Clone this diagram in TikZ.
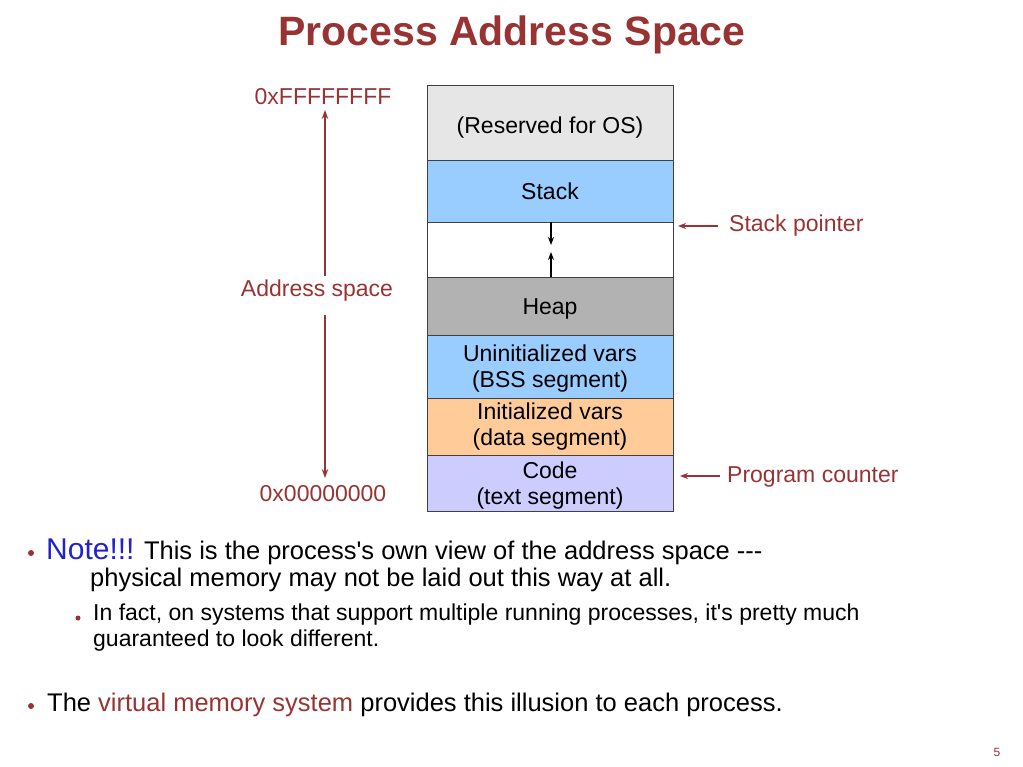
\documentclass[tikz,border=0pt]{standalone}
\usepackage{fontspec}
\setmainfont{Liberation Sans}[Ligatures=TeXOff]
\usetikzlibrary{arrows.meta}
\definecolor{darkred}{HTML}{993333}
\definecolor{noteblue}{HTML}{2222CC}
\definecolor{osgray}{HTML}{E6E6E6}
\definecolor{stackblue}{HTML}{99CCFF}
\definecolor{heapgray}{HTML}{B2B2B2}
\definecolor{dataorange}{HTML}{FFCC99}
\definecolor{codeviolet}{HTML}{CCCCFF}
\newcommand{\fs}[1]     {\fontsize{#1}{1.2\dimexpr#1pt\relax}\selectfont}
\newcommand{\hl}[1]     {\textcolor{darkred}{#1}}
\newcommand{\dn}[2]     {\raisebox{-#1pt}[\height][\depth]{\begin{tabular}{@{}c@{}}#2\end{tabular}}}

\begin{document}
\begin{tikzpicture}[x=1pt,y=-1pt,
   seg/.style={draw=black!75,line width=0.8pt,minimum width=246pt,inner sep=0pt,
               align=center,font=\fs{23},text=black},
   lbl/.style={text=darkred,font=\fs{23},inner sep=1pt},
   redarrow/.style={draw=darkred,line width=1.3pt,-{Stealth[length=9pt,width=6.5pt]}},
   blkarrow/.style={draw=black,line width=1.1pt,-{Stealth[length=8pt,width=6pt]}},
   txt/.style={anchor=base west,inner sep=0pt}]
   \useasboundingbox (0,0) rectangle (1023,767);
   % title
   \node[text=darkred,font=\fs{41}\bfseries] (title) at (512,35) {Process Address Space};
   % memory layout, top to bottom
   \node[seg,fill=osgray,minimum height=75pt]     (os)    at (550,122.5) {\dn{5}{(Reserved for OS)}};
   \node[seg,fill=stackblue,minimum height=62pt]  (stack) at (550,191)   {Stack};
   \node[seg,fill=white,minimum height=55pt]      (gap)   at (550,249.5) {};
   \node[seg,fill=heapgray,minimum height=58pt]   (heap)  at (550,306)   {\dn{3}{Heap}};
   \node[seg,fill=stackblue,minimum height=63pt]  (bss)   at (550,366.5) {\dn{2.5}{Uninitialized vars\\[-1.5pt](BSS segment)}};
   \node[seg,fill=dataorange,minimum height=57pt] (data)  at (550,426.5) {Initialized vars\\[-1.5pt](data segment)};
   \node[seg,fill=codeviolet,minimum height=56pt] (code)  at (550,483)   {\dn{3}{Code\\[-1.5pt](text segment)}};
   \coordinate (down) at (551,245);
   \coordinate (up)   at (551,252);
   \draw[blkarrow] (stack.south -| down) -- (down);
   \draw[blkarrow] (heap.north -| up) -- (up);
   % address range
   \node[lbl] (hi)   at (323,97)  {0xFFFFFFFF};
   \node[lbl] (addr) at (317,291) {Address space};
   \node[lbl] (lo)   at (323,494) {0x00000000};
   \draw[redarrow] (325,276) -- (325,110);
   \draw[redarrow] (325,315) -- (325,478);
   % pointers
   \node[lbl,anchor=west] (sp) at (728,226) {Stack pointer};
   \node[lbl,anchor=west] (pc) at (726,477) {Program counter};
   \coordinate (spend) at (678,226);
   \coordinate (pcend) at (680,476);
   \draw[redarrow,line width=1.1pt,-{Stealth[length=8pt,width=6pt]}] (sp.west |- spend) ++(-10,0) -- (spend);
   \draw[redarrow,line width=1.1pt,-{Stealth[length=8pt,width=6pt]}] (pc.west |- pcend) ++(-6,0) -- (pcend);
   % bullets
   \fill[darkred] (31,553) circle(3);
   \fill[darkred] (78,618) circle(2.5);
   \fill[darkred] (31,706) circle(3);
   \node[txt] (note)  at (46,559)  {\fs{30}\textcolor{noteblue}{Note!!!}\fs{25.5} This is the process's own view of the address space ---};
   \node[txt] (note2) at (90,586)  {\fs{25.5}physical memory may not be laid out this way at all.};
   \node[txt] (sub)   at (93,620)  {\fs{23}In fact, on systems that support multiple running processes, it's pretty much};
   \node[txt] (sub2)  at (93,646)  {\fs{23}guaranteed to look different.};
   \node[txt] (vm)    at (47,711)  {\fs{25.5}The \hl{virtual memory system} provides this illusion to each process.};
   \node[text=darkred,font=\fs{12}] (page) at (997,752) {5};
 \end{tikzpicture}
\end{document}
